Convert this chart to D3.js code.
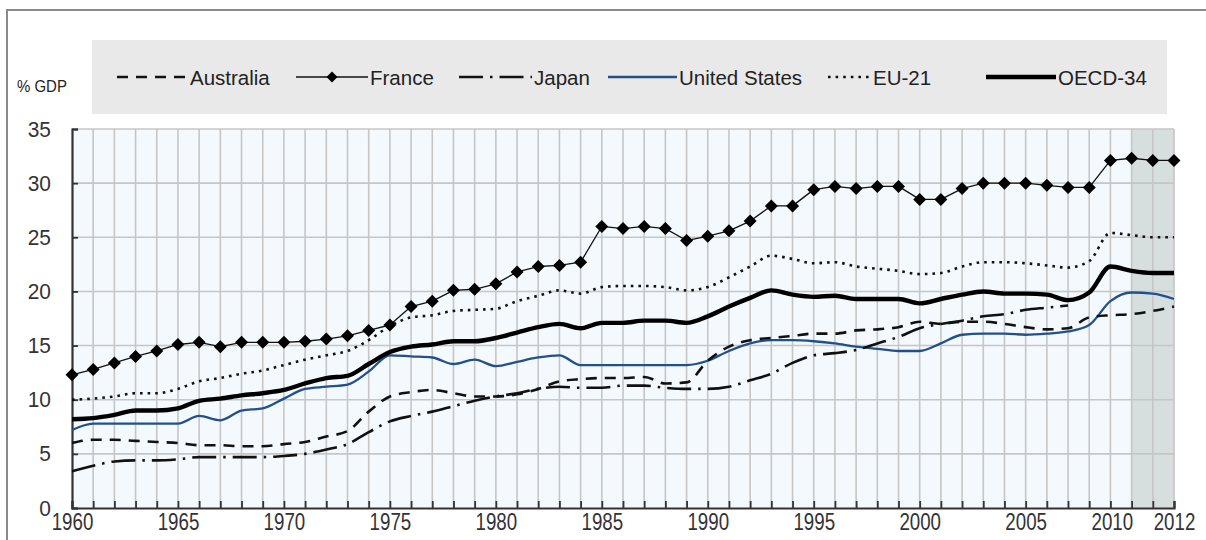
<!DOCTYPE html>
<html>
<head>
<meta charset="utf-8">
<script src="https://cdn.jsdelivr.net/npm/d3@7"></script>
<style>
  html, body { margin: 0; padding: 0; background: #fff; }
  svg { display: block; }
  text { font-family: "Liberation Sans", Arial, sans-serif; }
</style>
</head>
<body>
<svg id="viz" width="1206" height="540"></svg>
<script>
// years on the x axis (category axis)
const years = d3.range(1960, 2013);
const yTicks = [0, 5, 10, 15, 20, 25, 30, 35];
const xLabels = [1960, 1965, 1970, 1975, 1980, 1985, 1990, 1995, 2000, 2005, 2010, 2012];
const shadeYears = [2010, 2012];

// public social expenditure, % of GDP
const australia = [6.0, 6.3, 6.3, 6.2, 6.1, 6.0, 5.8, 5.8, 5.7, 5.7, 5.9, 6.1, 6.6, 7.1, 8.9, 10.3, 10.7, 10.9, 10.6, 10.3,
  10.3, 10.5, 11.0, 11.7, 11.9, 12.0, 12.0, 12.1, 11.5, 11.6, 13.6, 14.9, 15.5, 15.7, 15.9, 16.1, 16.1, 16.4, 16.5, 16.7,
  17.2, 17.0, 17.2, 17.2, 17.0, 16.7, 16.5, 16.6, 17.6, 17.8, 17.9, 18.2, 18.6];
const france = [12.3, 12.8, 13.4, 14.0, 14.5, 15.1, 15.3, 14.9, 15.3, 15.3, 15.3, 15.4, 15.6, 15.9, 16.4, 16.9, 18.6, 19.1, 20.1, 20.2,
  20.7, 21.8, 22.3, 22.4, 22.7, 26.0, 25.8, 26.0, 25.8, 24.7, 25.1, 25.6, 26.5, 27.9, 27.9, 29.4, 29.7, 29.5, 29.7, 29.7,
  28.5, 28.5, 29.5, 30.0, 30.0, 30.0, 29.8, 29.6, 29.6, 32.1, 32.3, 32.1, 32.1];
// Japan series stops in 2007
const japan = [3.4, 3.9, 4.3, 4.4, 4.4, 4.5, 4.7, 4.7, 4.7, 4.7, 4.8, 5.0, 5.4, 5.9, 7.0, 8.0, 8.5, 8.9, 9.4, 9.9,
  10.3, 10.6, 11.0, 11.2, 11.1, 11.1, 11.3, 11.3, 11.1, 11.0, 11.0, 11.2, 11.8, 12.4, 13.4, 14.1, 14.3, 14.6, 15.2, 15.8,
  16.6, 17.0, 17.3, 17.7, 17.9, 18.3, 18.5, 18.7];
const unitedStates = [7.2, 7.8, 7.8, 7.8, 7.8, 7.8, 8.5, 8.1, 9.0, 9.2, 10.1, 11.0, 11.2, 11.4, 12.6, 14.1, 14.0, 13.9, 13.3, 13.7,
  13.1, 13.5, 13.9, 14.1, 13.2, 13.2, 13.2, 13.2, 13.2, 13.2, 13.6, 14.5, 15.2, 15.5, 15.5, 15.4, 15.2, 14.9, 14.7, 14.5,
  14.5, 15.2, 16.0, 16.1, 16.1, 16.0, 16.1, 16.3, 16.9, 19.1, 19.9, 19.8, 19.3];
const eu21 = [10.0, 10.1, 10.3, 10.6, 10.6, 11.0, 11.7, 12.0, 12.4, 12.7, 13.2, 13.7, 14.1, 14.5, 15.5, 16.8, 17.6, 17.8, 18.2, 18.3,
  18.4, 19.1, 19.6, 20.1, 19.8, 20.4, 20.5, 20.5, 20.4, 20.1, 20.4, 21.3, 22.3, 23.3, 23.0, 22.6, 22.7, 22.3, 22.1, 21.9,
  21.6, 21.7, 22.3, 22.7, 22.7, 22.6, 22.4, 22.2, 22.8, 25.4, 25.2, 25.0, 25.0];
const oecd34 = [8.2, 8.3, 8.6, 9.0, 9.0, 9.2, 9.9, 10.1, 10.4, 10.6, 10.9, 11.5, 12.0, 12.2, 13.3, 14.4, 14.9, 15.1, 15.4, 15.4,
  15.7, 16.2, 16.7, 17.0, 16.6, 17.1, 17.1, 17.3, 17.3, 17.1, 17.7, 18.6, 19.4, 20.1, 19.7, 19.5, 19.6, 19.3, 19.3, 19.3,
  18.9, 19.3, 19.7, 20.0, 19.8, 19.8, 19.7, 19.2, 19.9, 22.3, 21.9, 21.7, 21.7];

const seriesNames = ["Australia", "France", "Japan", "United States", "EU-21", "OECD-34"];
const seriesValues = [australia, france, japan, unitedStates, eu21, oecd34];

const styles = {
  "Australia":     {stroke: "#111", width: 2.6, dash: "11,8", curve: d3.curveMonotoneX},
  "France":        {stroke: "#111", width: 1.3, dash: null, curve: d3.curveLinear, marker: true},
  "Japan":         {stroke: "#111", width: 2.6, dash: "24,7,2.5,7", curve: d3.curveMonotoneX},
  "United States": {stroke: "#22508c", width: 2.3, dash: null, curve: d3.curveMonotoneX},
  "EU-21":         {stroke: "#111", width: 2.6, dash: "2.6,5", curve: d3.curveMonotoneX},
  "OECD-34":       {stroke: "#000", width: 4.4, dash: null, curve: d3.curveMonotoneX}
};
const drawOrder = ["United States", "Australia", "Japan", "EU-21", "OECD-34", "France"];

// no condensed font installed: squeeze text horizontally instead
function squeeze(sel, ratio) {
  sel.each(function () {
    const w = this.getComputedTextLength();
    d3.select(this).attr("textLength", w * ratio).attr("lengthAdjust", "spacingAndGlyphs");
  });
}

const svg = d3.select("#viz");
const pLeft = 72, pRight = 1174, pTop = 129, pBottom = 508;

const x = d3.scaleLinear().domain([1960, 2012]).range([pLeft, pRight]);
const y = d3.scaleLinear().domain([0, 35]).range([pBottom, pTop]);

// outer frame
svg.append("rect").attr("x", 7).attr("y", 10).attr("width", 1230).attr("height", 580)
  .attr("fill", "none").attr("stroke", "#8a8a8a").attr("stroke-width", 2);

// legend box
svg.append("rect").attr("x", 92).attr("y", 40).attr("width", 1075).attr("height", 74).attr("fill", "#e9e9e9");

svg.append("text").attr("x", 17).attr("y", 92).attr("font-size", 17).attr("fill", "#222").text("% GDP")
  .call(squeeze, 0.88);

// plot background + shaded last years
svg.append("rect").attr("x", pLeft).attr("y", pTop).attr("width", pRight - pLeft).attr("height", pBottom - pTop).attr("fill", "#f3f9fd");
svg.append("rect").attr("x", x(shadeYears[0])).attr("y", pTop)
  .attr("width", x(shadeYears[1]) - x(shadeYears[0])).attr("height", pBottom - pTop).attr("fill", "#d6dfde");

// grid
const grid = svg.append("g").attr("stroke", "#c6c6c6").attr("stroke-width", 1.6);
grid.selectAll(".v").data(years.slice(1)).join("line")
  .attr("x1", d => x(d)).attr("x2", d => x(d)).attr("y1", pTop).attr("y2", pBottom);
grid.selectAll(".h").data(yTicks.slice(1)).join("line")
  .attr("x1", pLeft).attr("x2", pRight).attr("y1", d => y(d)).attr("y2", d => y(d));

// axes
const yAxis = svg.append("g").attr("transform", `translate(${pLeft},0)`)
  .call(d3.axisLeft(y).tickValues(yTicks).tickSize(-6).tickPadding(21));
const xAxis = svg.append("g").attr("transform", `translate(0,${pBottom})`)
  .call(d3.axisBottom(x).tickValues(years).tickSize(-7).tickPadding(5)
    .tickFormat(d => xLabels.includes(d) ? String(d) : ""));

[yAxis, xAxis].forEach(a => {
  a.select(".domain").attr("stroke", "#333").attr("stroke-width", 2.2);
  a.selectAll(".tick line").attr("stroke", "#333").attr("stroke-width", 1.8);
  a.selectAll("text").attr("fill", "#333").attr("font-family", null);
});
yAxis.selectAll("text").attr("font-size", 22).call(squeeze, 0.95);
xAxis.selectAll("text").attr("font-size", 24).filter(d => xLabels.includes(d)).call(squeeze, 0.78);
xAxis.selectAll(".tick").filter(d => d === 2010).select("text").attr("text-anchor", "end").attr("dx", 1);

// lines
const diamond = s => `M0,${-s}L${s},0L0,${s}L${-s},0Z`;
const plot = svg.append("g");
drawOrder.forEach(name => {
  const vals = seriesValues[seriesNames.indexOf(name)];
  const st = styles[name];
  const pts = vals.map((v, i) => [years[i], v]);
  const line = d3.line().x(d => x(d[0])).y(d => y(d[1])).curve(st.curve);
  plot.append("path").attr("d", line(pts)).attr("fill", "none")
    .attr("stroke", st.stroke).attr("stroke-width", st.width)
    .attr("stroke-dasharray", st.dash).attr("stroke-linejoin", "round");
  if (st.marker) {
    plot.selectAll(null).data(pts).join("path")
      .attr("transform", d => `translate(${x(d[0])},${y(d[1])})`)
      .attr("d", diamond(6.5)).attr("fill", "#000");
  }
});

// legend
const legendItems = [
  {name: "Australia", x0: 117, x1: 188},
  {name: "France", x0: 296, x1: 368},
  {name: "Japan", x0: 459, x1: 532},
  {name: "United States", x0: 608, x1: 677},
  {name: "EU-21", x0: 828, x1: 871},
  {name: "OECD-34", x0: 986, x1: 1056}
];
const ly = 77;
const lg = svg.append("g");
legendItems.forEach(it => {
  const st = styles[it.name];
  lg.append("line").attr("x1", it.x0).attr("x2", it.x1).attr("y1", ly).attr("y2", ly)
    .attr("stroke", st.stroke).attr("stroke-width", st.width)
    .attr("stroke-dasharray", it.name === "Australia" ? "11,8" : st.dash);
  if (st.marker) {
    lg.append("path").attr("transform", `translate(${(it.x0 + it.x1) / 2},${ly})`).attr("d", diamond(5.5)).attr("fill", "#000");
  }
  lg.append("text").attr("x", it.x1 + 2).attr("y", ly + 7.5).attr("font-size", 20.5).attr("fill", "#222").text(it.name);
});
</script>
</body>
</html>
